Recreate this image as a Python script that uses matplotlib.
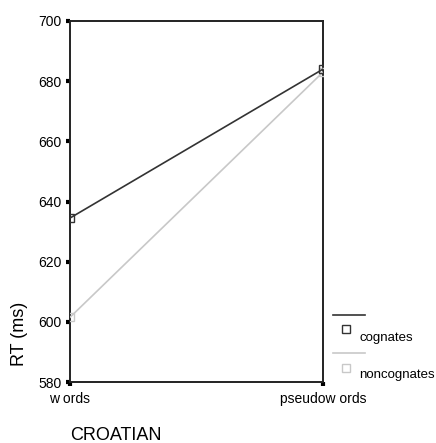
import matplotlib
matplotlib.use('Agg')
import matplotlib.pyplot as plt
from matplotlib.lines import Line2D

plt.rcParams['font.family'] = ['Liberation Sans', 'DejaVu Sans']

conditions = ['w ords', 'pseudow ords']
cognates = [634.5, 684.0]
noncognates = [601.5, 683.0]
yticks = [580, 600, 620, 640, 660, 680, 700]

W, H = 436, 443
fig = plt.figure(figsize=(W / 100, H / 100), dpi=100)
ax = fig.add_axes([70 / W, 1 - 382 / H, 253 / W, 361 / H])

x = list(range(len(conditions)))
ax.plot(x, noncognates, color='#c8c8c8', lw=1.2, marker='s', ms=6,
        mfc='none', mec='#c8c8c8', mew=1.0, zorder=3)
ax.plot(x, cognates, color='#333333', lw=1.2, marker='s', ms=6,
        mfc='none', mec='#333333', mew=1.0, zorder=4)

ax.set_xlim(0, 1)
ax.set_ylim(580, 700)
ax.set_yticks(yticks)
ax.set_xticks(x)
ax.set_xticklabels(conditions)
for sp in ax.spines.values():
    sp.set_linewidth(1.4)
    sp.set_color('#222222')
ax.tick_params(axis='y', length=3, width=3, direction='out', pad=3, labelsize=10)
ax.tick_params(axis='x', length=3, width=3, direction='out', pad=4, labelsize=10)

fig.text(19 / W, 1 - 334 / H, 'RT (ms)', rotation=90, fontsize=13,
         ha='center', va='center')
fig.text(70 / W, 1 - 435 / H, 'CROATIAN', fontsize=13, ha='left', va='center')

# legend drawn in figure coords (SPSS style)
def fx(px):
    return px / W

def fy(py):
    return 1 - py / H

fig.add_artist(Line2D([fx(333), fx(365)], [fy(315), fy(315)], color='#333333', lw=1.2))
fig.add_artist(Line2D([fx(346)], [fy(329)], marker='s', ms=6, mfc='none',
                      mec='#333333', mew=1.0, ls='none'))
fig.text(fx(359), fy(338), 'cognates', fontsize=9.5, va='center')
fig.add_artist(Line2D([fx(333), fx(365)], [fy(353), fy(353)], color='#c8c8c8', lw=1.2))
fig.add_artist(Line2D([fx(346)], [fy(368)], marker='s', ms=6, mfc='none',
                      mec='#c8c8c8', mew=1.0, ls='none'))
fig.text(fx(359), fy(375), 'noncognates', fontsize=9.5, va='center')

fig.savefig('out.png', dpi=100)
